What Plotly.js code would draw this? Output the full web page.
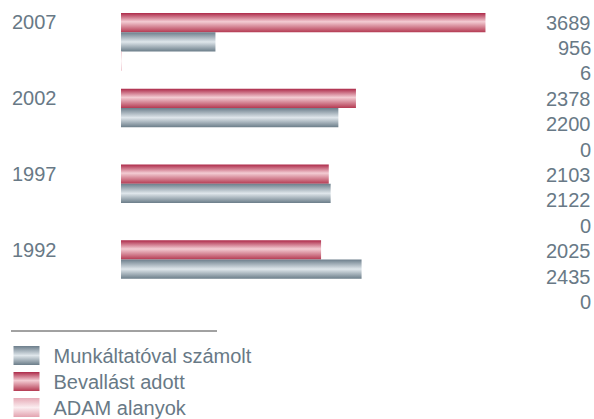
<!DOCTYPE html>
<html><head><meta charset="utf-8">
<script src="https://cdn.plot.ly/plotly-3.0.1.min.js"></script>
<style>html,body{margin:0;padding:0;background:#fff;}#chart{width:594px;height:419px;}</style>
</head><body>
<svg width="0" height="0" style="position:absolute">
<defs>
<linearGradient id="gRed" x1="0" y1="0" x2="0" y2="1">
<stop offset="0" stop-color="#ad2a49"/><stop offset="0.45" stop-color="#f3ccd3"/><stop offset="1" stop-color="#b43a52"/>
</linearGradient>
<linearGradient id="gGray" x1="0" y1="0" x2="0" y2="1">
<stop offset="0" stop-color="#6c7e8b"/><stop offset="0.5" stop-color="#dfe6eb"/><stop offset="1" stop-color="#6b7d89"/>
</linearGradient>
<linearGradient id="gPink" x1="0" y1="0" x2="0" y2="1">
<stop offset="0" stop-color="#e6aab6"/><stop offset="0.5" stop-color="#fbedf0"/><stop offset="1" stop-color="#e3a3b0"/>
</linearGradient>
</defs></svg>
<div id="chart"></div>
<script>
const years = ["2007", "2002", "1997", "1992"];
const bevallast = [3689, 2378, 2103, 2025];
const munkaltato = [956, 2200, 2122, 2435];
const adam = [6, 0, 0, 0];
const seriesNames = ["Bevallást adott", "Munkáltatóval számolt", "ADAM alanyok"];

const txtColor = "#687986";
const fnt = "Liberation Sans, Arial, sans-serif";

const traces = [
  {type:"bar", orientation:"h", y:years, x:bevallast, name:seriesNames[0], marker:{color:"#c0435e"}, legendrank:2, hoverinfo:"x"},
  {type:"bar", orientation:"h", y:years, x:munkaltato, name:seriesNames[1], marker:{color:"#8696a2"}, legendrank:1, hoverinfo:"x"},
  {type:"bar", orientation:"h", y:years, x:adam, name:seriesNames[2], marker:{color:"#ecb8c2"}, legendrank:3, hoverinfo:"x"}
];

const W = 395, T = 4, H = 303;
const annotations = [];
years.forEach((yr, i) => {
  annotations.push({xref:"paper", yref:"y", x:-111/W, y:i, xanchor:"left", yanchor:"middle",
    yshift:19.5, text:yr, showarrow:false, font:{family:fnt, size:20, color:txtColor}});
});
const vals = [];
years.forEach((yr, i) => { vals.push(bevallast[i], munkaltato[i], adam[i]); });
vals.forEach((v, k) => {
  const py = 22.5 + 25.4 * k;
  annotations.push({xref:"paper", yref:"paper", x:(593-121)/W, y:1 - (py - T)/H, xanchor:"right", yanchor:"middle",
    text:String(v), showarrow:false, font:{family:fnt, size:20, color:txtColor}});
});

const layout = {
  width:594, height:419,
  margin:{l:121, r:594-121-W, t:T, b:419-T-H, autoexpand:false},
  paper_bgcolor:"#fff", plot_bgcolor:"#fff",
  barmode:"group", bargap:0.238, bargroupgap:0,
  xaxis:{range:[0, W/0.0988], visible:false, fixedrange:true},
  yaxis:{type:"category", categoryorder:"array", categoryarray:years, range:[3.5, -0.5], autorange:false, visible:false, fixedrange:true},
  showlegend:true,
  legend:{x:(53-121)/W - 0.1, xanchor:"left", y:1 - (342 - T)/H, yanchor:"top", traceorder:"normal",
    font:{family:fnt, size:20, color:txtColor}, bgcolor:"rgba(0,0,0,0)", itemclick:false, itemdoubleclick:false},
  annotations:annotations,
  shapes:[{type:"line", xref:"paper", yref:"paper", x0:(11-121)/W, x1:(217-121)/W, y0:1-(331-T)/H, y1:1-(331-T)/H,
    line:{color:"#444", width:1}}]
};

Plotly.newPlot("chart", traces, layout, {displayModeBar:false, staticPlot:true}).then(function(gd){
  const grads = ["url(#gRed)", "url(#gGray)", "url(#gPink)"];
  gd.querySelectorAll("g.trace.bars").forEach(function(g, i){
    g.querySelectorAll("path").forEach(function(p){ p.style.fill = grads[i]; });
  });
  const items = Array.from(gd.querySelectorAll("g.legend g.traces"));
  let y0 = null;
  items.forEach(function(g, k){
    const tr = g.getAttribute("transform") || "";
    const m = tr.match(/translate\(\s*([-\d.]+)[ ,]+([-\d.]+)\s*\)/);
    const tx = m ? parseFloat(m[1]) : 0;
    const ty = m ? parseFloat(m[2]) : 0;
    if (y0 === null) y0 = ty - 6;
    g.setAttribute("transform", "translate(" + tx + "," + (y0 + 26 * k) + ")");
    const name = g.querySelector("text.legendtext").textContent;
    const idx = seriesNames.indexOf(name);
    g.querySelectorAll("g.legendpoints path").forEach(function(p){
      p.setAttribute("d", "M-25,-9.5H6V9.5H-25Z");
      p.style.fill = grads[idx];
      p.style.stroke = "none";
    });
  });
});
</script>
</body></html>
